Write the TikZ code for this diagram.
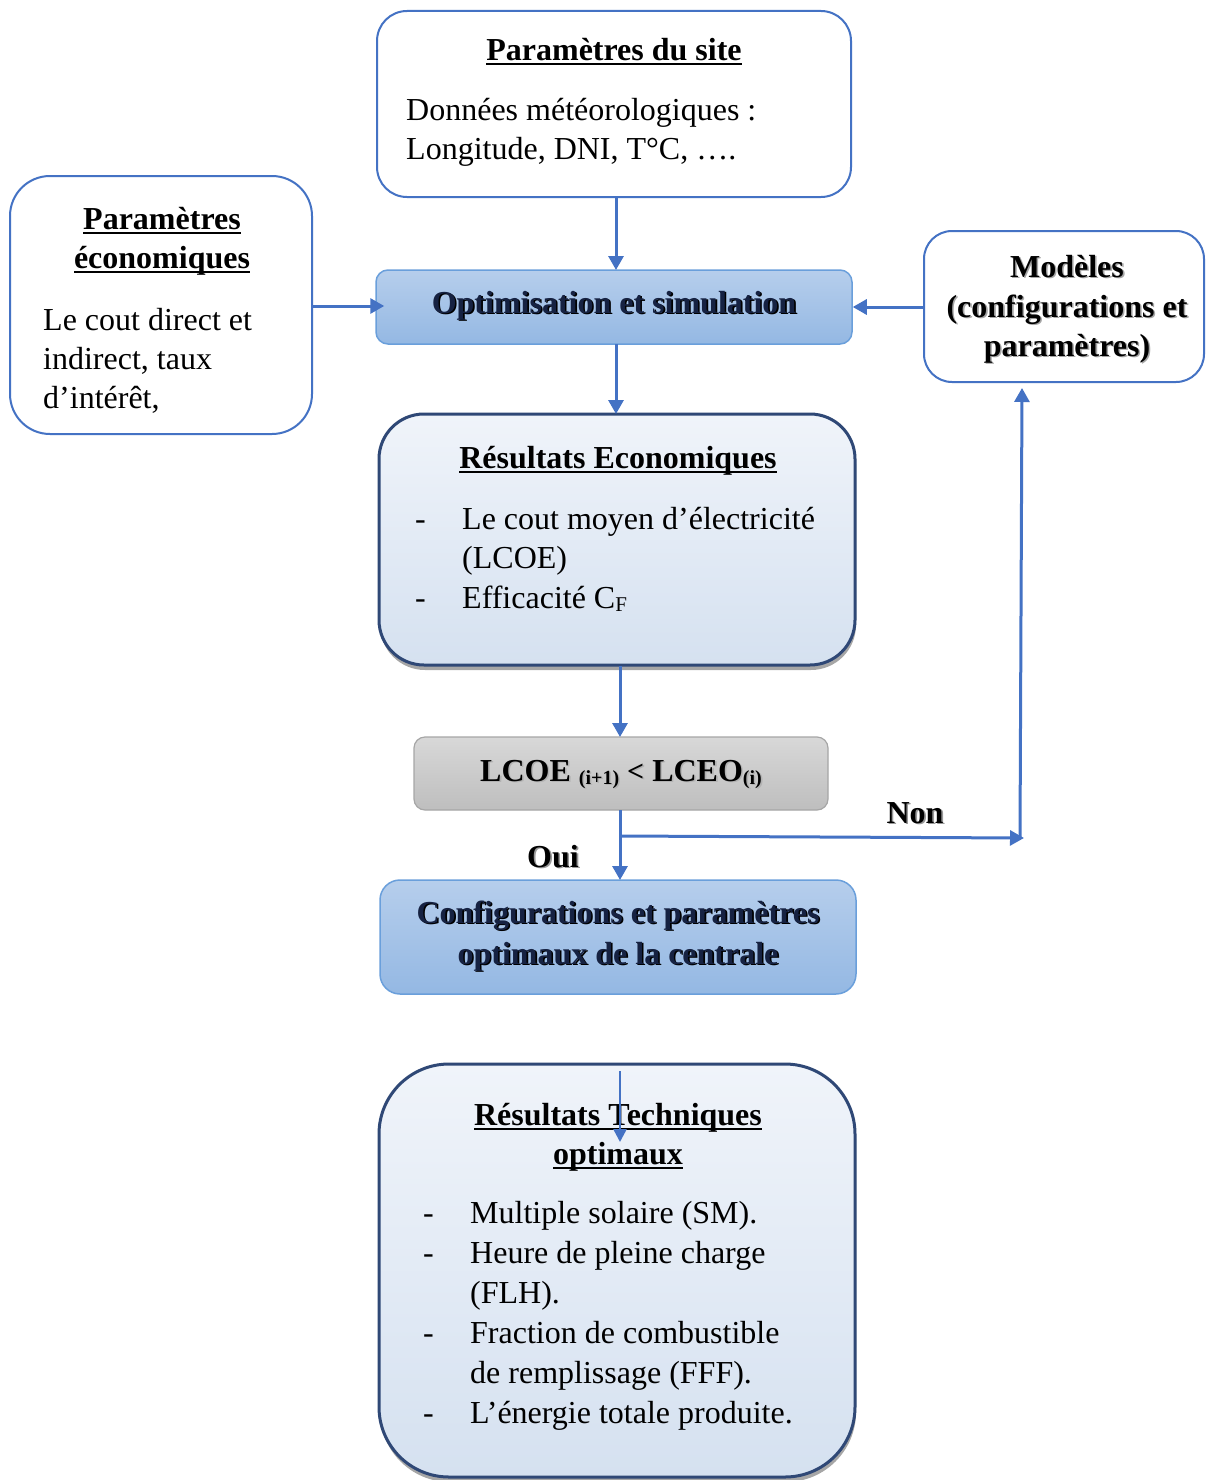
\documentclass[tikz,border=0pt]{standalone}
\usepackage{fontspec}
\setmainfont{Liberation Serif}
\usetikzlibrary{arrows.meta,shadows}
\definecolor{lineblue}{RGB}{68,114,196}
\definecolor{optborder}{RGB}{106,159,219}
\definecolor{opttop}{RGB}{182,206,236}
\definecolor{optbot}{RGB}{148,184,227}
\definecolor{resborder}{RGB}{47,72,118}
\definecolor{restop}{RGB}{240,244,250}
\definecolor{resbot}{RGB}{213,225,240}
\definecolor{graytop}{RGB}{216,216,216}
\definecolor{graybot}{RGB}{190,190,190}
\definecolor{grayborder}{RGB}{166,166,166}
\definecolor{navytext}{RGB}{22,34,66}
\newsavebox\ulbx
\newcommand\ulin[1]{\sbox\ulbx{#1}\rlap{\rule[-5pt]{\wd\ulbx}{2.2pt}}\usebox\ulbx}
\newcommand\shd[2][black]{\makebox[0pt][l]{\hspace*{1.6pt}\raisebox{-1.6pt}{\color{#1}#2}}#2}
\begin{document}
\begin{tikzpicture}[x=1pt,y=-1pt,
  every node/.style={font=\fontsize{32}{40}\selectfont, inner sep=0pt},
  whitebox/.style={draw=lineblue, line width=2pt, fill=white, rectangle},
  bluebox/.style={draw=optborder, line width=1.5pt, top color=opttop, bottom color=optbot, rectangle, rounded corners=12pt},
  resbox/.style={draw=resborder, line width=3pt, top color=restop, bottom color=resbot, rectangle,
     drop shadow={shadow xshift=1pt, shadow yshift=-5pt, opacity=0.35, fill=black}},
  graybox/.style={draw=grayborder, line width=1.2pt, top color=graytop, bottom color=graybot, rectangle, rounded corners=11pt},
  conn/.style={draw=lineblue, line width=3pt, -{Triangle[width=15pt,length=14pt]}},
  plain/.style={draw=lineblue, line width=3pt},
  txt/.style={anchor=base west},
  ctxt/.style={anchor=base},
]
\useasboundingbox (0,0) rectangle (1208,1480);
\fill[white] (0,0) rectangle (1208,1480);

% boxes
\node[whitebox, rounded corners=30pt, minimum width=474pt, minimum height=186pt] (site) at (614,104) {};
\node[whitebox, rounded corners=40pt, minimum width=302pt, minimum height=258pt] (eco) at (161,305) {};
\node[whitebox, rounded corners=28pt, minimum width=280pt, minimum height=151pt] (mod) at (1064,306.5) {};
\node[bluebox, minimum width=476pt, minimum height=74pt] (opt) at (614,307) {};
\node[resbox, rounded corners=45pt, minimum width=476pt, minimum height=251pt] (reseco) at (617,539.5) {};
\node[graybox, minimum width=414pt, minimum height=73pt] (lcoe) at (621,773.5) {};
\node[bluebox, rounded corners=20pt, minimum width=476pt, minimum height=114pt] (conf) at (618,937) {};
\node[resbox, rounded corners=70pt, minimum width=476pt, minimum height=413pt] (restech) at (617,1270.5) {};

% site texts
\node[ctxt] (siteT) at (614,60) {\bfseries\ulin{Paramètres du site}};
\node[txt] (siteL1) at (406,120) {Données météorologiques :};
\node[txt] (siteL2) at (406,159) {Longitude, DNI, T°C, ….};

% eco texts
\node[ctxt] (ecoT1) at (162,229) {\bfseries\ulin{Paramètres}};
\node[ctxt] (ecoT2) at (162,268) {\bfseries\ulin{économiques}};
\node[txt] (ecoL1) at (43,330) {Le cout direct et};
\node[txt] (ecoL2) at (43,369) {indirect, taux};
\node[txt] (ecoL3) at (43,408) {d’intérêt,};

% models
\node[ctxt] (modL1) at (1067,277) {\bfseries\shd[black!35]{Modèles}};
\node[ctxt] (modL2) at (1067,317) {\bfseries\shd[black!35]{(configurations et}};
\node[ctxt] (modL3) at (1067,356) {\bfseries\shd[black!35]{paramètres)}};

% optimisation
\node[ctxt, text=navytext] (optT) at (614,313) {\bfseries\shd{Optimisation et simulation}};

% results eco
\node[ctxt] (resecoT) at (618,468) {\bfseries\ulin{Résultats Economiques}};
\node[txt] (re1d) at (415,529) {-};
\node[txt] (re1) at (462,529) {Le cout moyen d’électricité};
\node[txt] (re2) at (462,568) {(LCOE)};
\node[txt] (re3d) at (415,608) {-};
\node[txt] (re3) at (462,608) {Efficacité C\raisebox{-3pt}{\fontsize{21}{21}\selectfont F}};

% LCOE test
\node[ctxt] (lcoeT) at (621,781) {\bfseries\shd[black!30]{LCOE \raisebox{-3pt}{\fontsize{20}{20}\selectfont(i+1)} {\fontsize{30}{30}\selectfont<} LCEO\raisebox{-3pt}{\fontsize{20}{20}\selectfont(i)}}};

\node[ctxt] (oui) at (553,867) {\bfseries\shd[black!40]{Oui}};
\node[ctxt] (non) at (915,823) {\bfseries\shd[black!40]{Non}};

% conf
\node[ctxt, text=navytext] (confL1) at (618,923) {\bfseries\shd{Configurations et paramètres}};
\node[ctxt, text=navytext] (confL2) at (618,964) {\bfseries\shd{optimaux de la centrale}};

% results tech
\node[ctxt] (rtT1) at (618,1125) {\bfseries\ulin{Résultats Techniques}};
\node[ctxt] (rtT2) at (618,1164) {\bfseries\ulin{optimaux}};
\node[txt] (rt1d) at (423,1223) {-};
\node[txt] (rt1) at (470,1223) {Multiple solaire (SM).};
\node[txt] (rt2d) at (423,1263) {-};
\node[txt] (rt2) at (470,1263) {Heure de pleine charge};
\node[txt] (rt3) at (470,1303) {(FLH).};
\node[txt] (rt4d) at (423,1343) {-};
\node[txt] (rt4) at (470,1343) {Fraction de combustible};
\node[txt] (rt5) at (470,1383) {de remplissage (FFF).};
\node[txt] (rt6d) at (423,1423) {-};
\node[txt] (rt6) at (470,1423) {L’énergie totale produite.};

% connectors
\coordinate (sitebot) at (616,198);
\coordinate (opttop) at (616,270);
\draw[conn] (sitebot) -- (opttop);
\draw[conn] (eco.east |- 0,306) -- ([xshift=9pt]opt.west |- 0,306);
\draw[conn] (mod.west |- 0,307) -- (opt.east |- 0,307);
\coordinate (optbot) at (616,344);
\coordinate (resecotop) at (616,414);
\draw[conn] (optbot) -- (resecotop);
\coordinate (resecobot) at (620,666);
\coordinate (lcoetop) at (620,737);
\draw[conn] (resecobot) -- (lcoetop);
\coordinate (lcoebot) at (620,810);
\coordinate (conftop) at (620,880);
\draw[conn] (lcoebot) -- (conftop);
\coordinate (branch) at (620,836);
\coordinate (nonend) at (1024,838);
\draw[conn] (branch) -- (nonend);
\coordinate (upstart) at (1020,838);
\coordinate (modbot) at (1022,388);
\draw[conn] (upstart) -- (modbot);
\coordinate (inA) at (620,1071);
\coordinate (inB) at (620,1142);
\draw[draw=lineblue, line width=2.5pt, -{Triangle[width=13pt,length=13pt]}] (inA) -- (inB);
\end{tikzpicture}
\end{document}
